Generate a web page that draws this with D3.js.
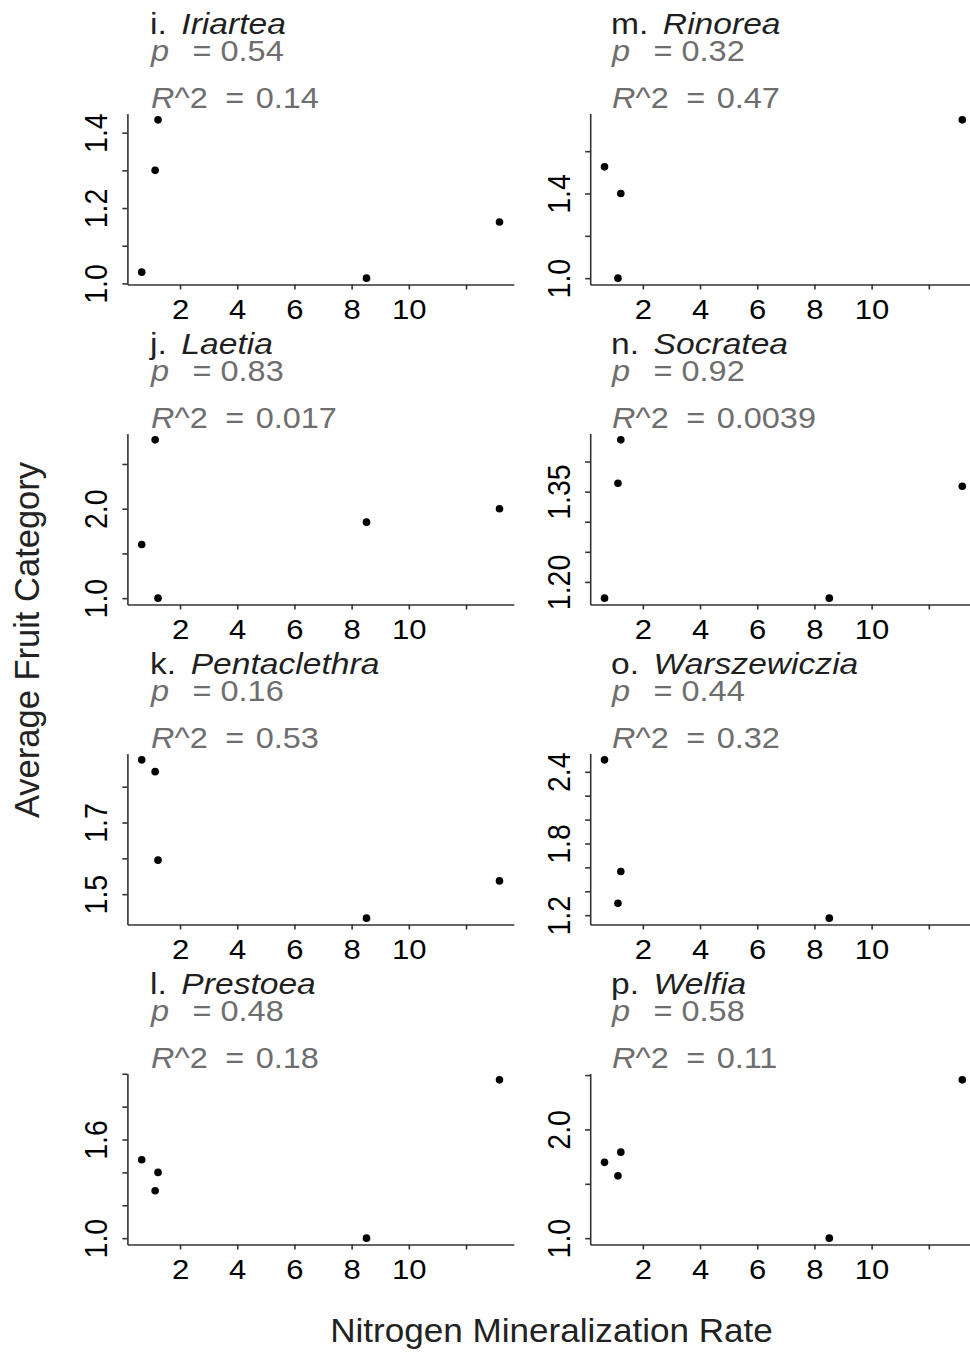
<!DOCTYPE html>
<html>
<head>
<meta charset="utf-8">
<script src="https://cdn.jsdelivr.net/npm/d3@7"></script>
<style>
  body { margin: 0; background: #fff; }
  svg { display: block; font-family: "Liberation Sans", Arial, sans-serif; }
</style>
</head>
<body>
<svg id="chart" width="970" height="1353"></svg>
<script>
// Nitrogen mineralization rate at each of the five sites
const nitrogenRate = [0.66, 1.13, 1.23, 8.52, 13.17];

// Panels, column by column
const panelLetters = ["i", "j", "k", "l", "m", "n", "o", "p"];
const genera = ["Iriartea", "Laetia", "Pentaclethra", "Prestoea",
                "Rinorea", "Socratea", "Warszewiczia", "Welfia"];
const pValues  = ["0.54", "0.83", "0.16", "0.48", "0.32", "0.92", "0.44", "0.58"];
const rSquared = ["0.14", "0.017", "0.53", "0.18", "0.47", "0.0039", "0.32", "0.11"];

// Average fruit category per site (null = genus absent at that site)
const iriartea     = [1.03, 1.30, 1.434, 1.014, 1.163];
const laetia       = [1.60, 2.77, 1.00, 1.85, 2.00];
const pentaclethra = [1.875, 1.842, 1.595, 1.433, 1.537];
const prestoea     = [1.477, 1.288, 1.40, 1.00, 1.963];
const rinorea      = [1.526, 1.00, 1.40, null, 1.748];
const socratea     = [1.173, 1.364, 1.436, 1.173, 1.359];
const warszewiczia = [2.50, 1.30, 1.565, 1.175, null];
const welfia       = [1.697, 1.573, 1.791, 1.00, 2.456];
const fruitValues = [iriartea, laetia, pentaclethra, prestoea,
                     rinorea, socratea, warszewiczia, welfia];

// Axis ticks (all tick marks, and the ones that carry a label)
const xTicks = [2, 4, 6, 8, 10, 12];
const xTickLabels = [2, 4, 6, 8, 10];
const yTicks = [
  [1.0, 1.1, 1.2, 1.3, 1.4],
  [1.0, 1.5, 2.0, 2.5],
  [1.5, 1.6, 1.7, 1.8],
  [1.0, 1.2, 1.4, 1.6, 1.8, 2.0],
  [1.0, 1.2, 1.4, 1.6],
  [1.20, 1.25, 1.30, 1.35, 1.40],
  [1.2, 1.4, 1.6, 1.8, 2.0, 2.2, 2.4],
  [1.0, 1.5, 2.0, 2.5]
];
const yTickLabels = [
  [1.0, 1.2, 1.4],
  [1.0, 2.0],
  [1.5, 1.7],
  [1.0, 1.6],
  [1.0, 1.4],
  [1.20, 1.35],
  [1.2, 1.8, 2.4],
  [1.0, 2.0]
];
const yTickDecimals = [1, 1, 1, 1, 1, 2, 1, 1];

// ---- layout ----
const colLeft = [127.4, 590.2];
const plotW = 386.4;
const rowTop = 113.5, rowStep = 320, plotH = 171;
const textX = [150, 611];
const sx = 1.09;           // horizontal glyph stretch
const axisColor = "#333";

const svg = d3.select("#chart");

// R-style axis limits: data range widened by 4% on each side
function padded(ext) {
  const d = (ext[1] - ext[0]) * 0.04;
  return [ext[0] - d, ext[1] + d];
}
const xDomain = padded(d3.extent(nitrogenRate));

fruitValues.forEach((vals, i) => {
  const col = Math.floor(i / 4), row = i % 4;
  const left = colLeft[col], top = rowTop + row * rowStep;
  const bottom = top + plotH;

  const pts = nitrogenRate.map((x, k) => ({ x, y: vals[k] })).filter(d => d.y != null);
  const x = d3.scaleLinear().domain(xDomain).range([left, left + plotW]);
  const y = d3.scaleLinear().domain(padded(d3.extent(pts, d => d.y))).range([bottom, top]);

  const g = svg.append("g").attr("class", "panel");

  // bottom axis
  const fmtY = d3.format("." + yTickDecimals[i] + "f");
  const xa = g.append("g")
    .attr("transform", `translate(0,${bottom})`)
    .call(d3.axisBottom(x).tickValues(xTicks).tickSize(5).tickSizeOuter(0)
      .tickFormat(d => xTickLabels.includes(d) ? d : ""));
  xa.selectAll("path.domain").attr("stroke", axisColor).attr("stroke-width", 1.6);
  xa.selectAll(".tick line").attr("stroke", axisColor).attr("stroke-width", 1.6);
  xa.selectAll("text")
    .attr("y", 0).attr("dy", 0)
    .attr("transform", `translate(0,34) scale(${sx},1)`)
    .attr("fill", "#000").style("font-size", "28.5px");

  // left axis
  const ya = g.append("g")
    .attr("transform", `translate(${left},0)`)
    .call(d3.axisLeft(y).tickValues(yTicks[i]).tickSize(5).tickSizeOuter(0)
      .tickFormat(d => yTickLabels[i].some(v => Math.abs(v - d) < 1e-9) ? fmtY(d) : ""));
  ya.selectAll("path.domain").attr("stroke", axisColor).attr("stroke-width", 1.6);
  ya.selectAll(".tick line").attr("stroke", axisColor).attr("stroke-width", 1.6);
  ya.selectAll("text")
    .attr("x", 0).attr("y", 0).attr("dy", 0)
    .attr("text-anchor", "middle")
    .attr("transform", `translate(-20.7,0) scale(${sx},1) rotate(-90)`)
    .attr("fill", "#000").style("font-size", "28.5px");

  // points
  g.selectAll("circle.pt").data(pts).join("circle")
    .attr("class", "pt")
    .attr("cx", d => x(d.x)).attr("cy", d => y(d.y))
    .attr("r", 3.8).attr("fill", "#000");

  // panel heading and statistics
  const tx = textX[col], base = row * rowStep;
  const title = g.append("text")
    .attr("transform", `translate(${tx},${34 + base}) scale(1.12,1)`)
    .attr("fill", "#1f1f1f").style("font-size", "30px");
  title.append("tspan").text(panelLetters[i] + ".");
  title.append("tspan").attr("dx", 13).style("font-style", "italic").text(genera[i]);

  const pl = g.append("text")
    .attr("transform", `translate(${tx + 1},${61 + base}) scale(1.12,1)`)
    .attr("fill", "#6e6e6e").style("font-size", "29px");
  pl.append("tspan").style("font-style", "italic").text("p");
  pl.append("tspan").attr("dx", 21).text("= " + pValues[i]);

  const rl = g.append("text")
    .attr("transform", `translate(${tx + 1},${108 + base}) scale(1.12,1)`)
    .attr("fill", "#6e6e6e").style("font-size", "29px");
  rl.append("tspan").style("font-style", "italic").text("R");
  rl.append("tspan").text("^2");
  rl.append("tspan").attr("dx", 15.7).text("=");
  rl.append("tspan").attr("dx", 10.2).text(rSquared[i]);
});

// axis titles
svg.append("text")
  .attr("transform", `translate(551.5,1341.7) scale(1.08,1)`)
  .attr("text-anchor", "middle").attr("fill", "#222").style("font-size", "32.5px")
  .text("Nitrogen Mineralization Rate");

svg.append("text")
  .attr("transform", `translate(38.5,640) rotate(-90)`)
  .attr("text-anchor", "middle").attr("fill", "#222").style("font-size", "34.5px")
  .text("Average Fruit Category");
</script>
</body>
</html>
